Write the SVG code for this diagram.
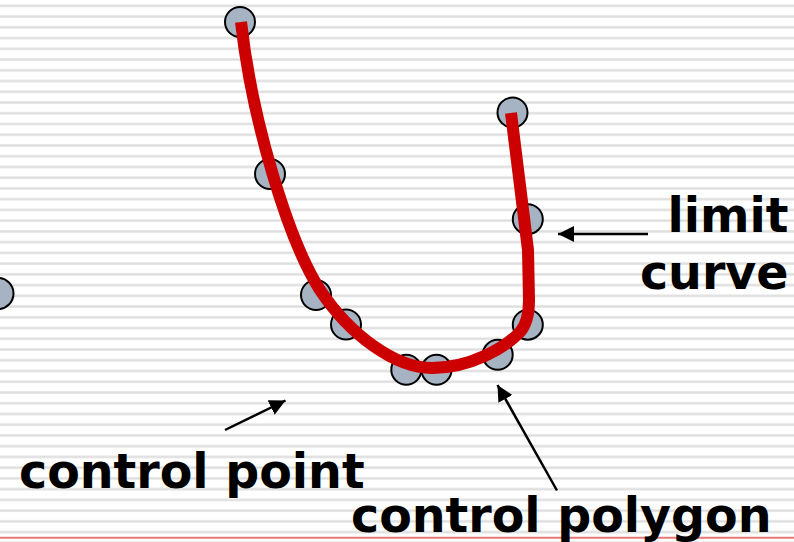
<svg xmlns="http://www.w3.org/2000/svg" width="794" height="542" viewBox="0 0 794 542">
  <defs>
    <pattern id="stripes" patternUnits="userSpaceOnUse" x="0" y="0.45" width="794" height="10.74">
      <rect x="0" y="4.2" width="794" height="2.4" fill="#dedede"/>
    </pattern>
    <marker id="arrow" markerUnits="userSpaceOnUse" markerWidth="18" markerHeight="16" refX="16" refY="8" orient="auto">
      <path d="M0,0 L16,8 L0,16 Z" fill="#000"/>
    </marker>
    <style>
      .pt { fill: #a6b3c3; stroke: #000; stroke-width: 2; }
      .poly { fill: none; stroke: #000; stroke-width: 2; stroke-linejoin: round; }
      .curve { fill: none; stroke: #cc0000; stroke-width: 12; stroke-linejoin: round; stroke-linecap: butt; }
      .conn { fill: none; stroke: #000; stroke-width: 2.5; marker-end: url(#arrow); }
      .lbl { font-family: "DejaVu Sans", Verdana, sans-serif; font-weight: bold; font-size: 47.5px; fill: #000; }
    </style>
  </defs>

  <rect width="794" height="542" fill="#ffffff"/>
  <rect width="794" height="542" fill="url(#stripes)"/>
  <line x1="0" y1="537.7" x2="794" y2="537.7" stroke="#e87878" stroke-width="2"/>

  <g id="control-polygon">
    <polyline class="poly" points="240,22 270,174 316,295 346,324 406,370 436,370 498,355 528,325 528,219 512,113"/>
  </g>

  <g id="p0"><circle class="pt" cx="240" cy="22" r="15"/></g>
  <g id="p1"><circle class="pt" cx="270" cy="174" r="15"/></g>
  <g id="p2"><circle class="pt" cx="316" cy="295" r="15"/></g>
  <g id="p3"><circle class="pt" cx="346" cy="324.5" r="15"/></g>
  <g id="p4"><circle class="pt" cx="406.3" cy="369.8" r="15"/></g>
  <g id="p5"><circle class="pt" cx="436.5" cy="369.8" r="15"/></g>
  <g id="p6"><circle class="pt" cx="497.7" cy="354.8" r="15"/></g>
  <g id="p7"><circle class="pt" cx="527.8" cy="324.7" r="15"/></g>
  <g id="p8"><circle class="pt" cx="527.8" cy="219.2" r="15"/></g>
  <g id="p9"><circle class="pt" cx="512.5" cy="112.5" r="15"/></g>
  <g id="p-left"><circle class="pt" cx="-2" cy="293.5" r="15.5"/></g>

  <g id="limit-curve">
    <path class="curve" d="M241,22 C252,120 288,240 320,290 C350,335 395,368 432,368 C470,368 505,348 520,332 Q529,322 529,300 L528,250 L511,113"/>
  </g>

  <g id="connectors">
    <line class="conn" x1="648" y1="234" x2="558" y2="234"/>
    <line class="conn" x1="225" y1="430" x2="285.5" y2="400.5"/>
    <line class="conn" x1="557" y1="490.5" x2="497.5" y2="385"/>
  </g>

  <g id="label-limit-curve">
    <text class="lbl" x="788.5" y="232" text-anchor="end">limit</text>
    <text class="lbl" x="788.5" y="289" text-anchor="end">curve</text>
  </g>
  <g id="label-control-point">
    <text class="lbl" x="19" y="488">control point</text>
  </g>
  <g id="label-control-polygon">
    <text class="lbl" x="351" y="532">control polygon</text>
  </g>
</svg>
